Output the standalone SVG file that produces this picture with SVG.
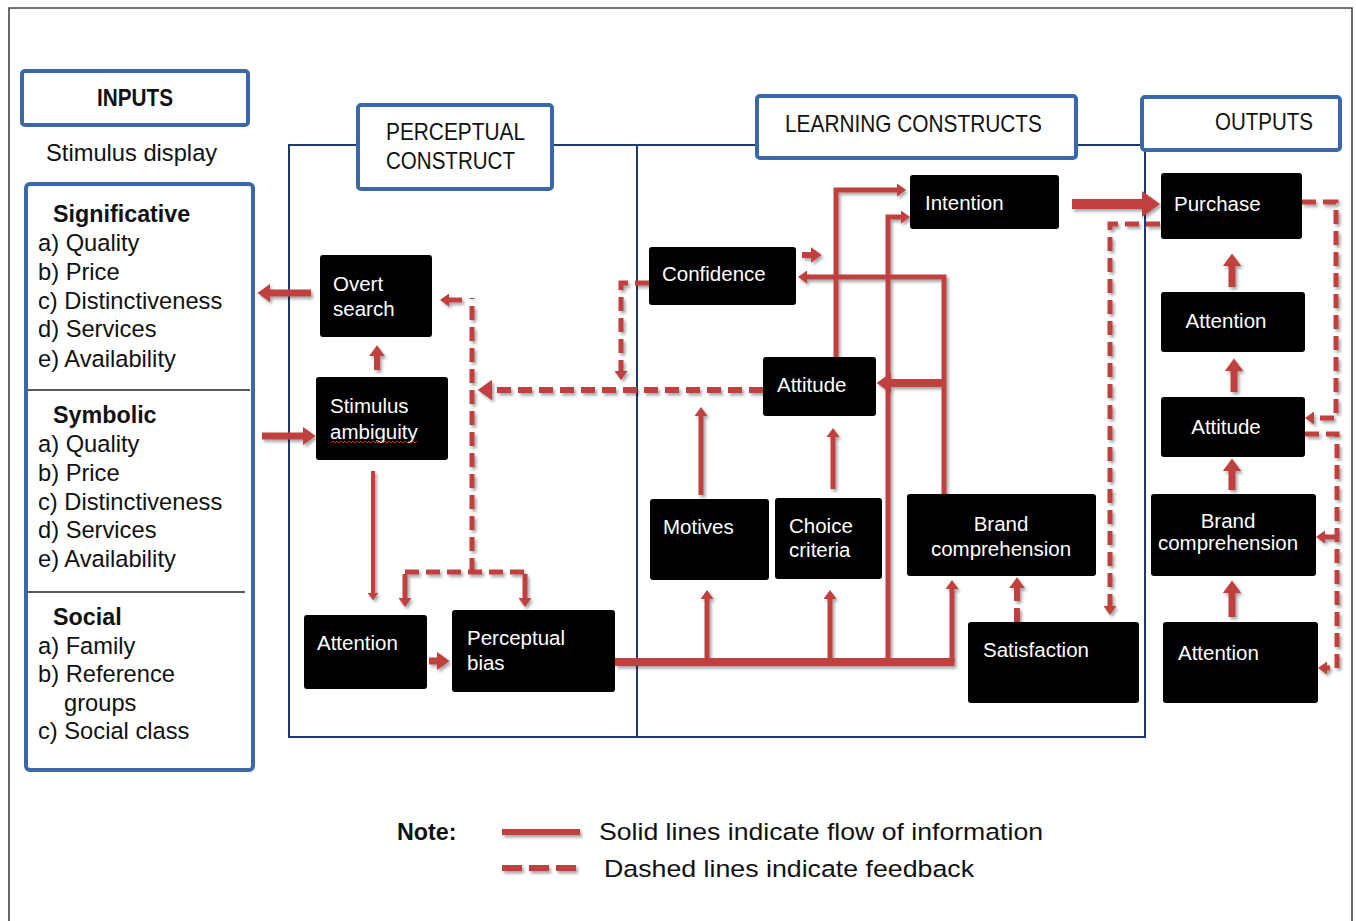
<svg xmlns="http://www.w3.org/2000/svg" width="1356" height="921" viewBox="0 0 1356 921">
  <defs>
    <style>
      .hdr { fill: #ffffff; stroke: #3a68ab; stroke-width: 4; }
      .region { fill: none; stroke: #1f3a6e; stroke-width: 2; }
      .node rect { fill: #000000; }
      .node text { fill: #ffffff; font-family: "Liberation Sans", Arial, sans-serif; font-size: 20.5px; }
      .htxt { fill: #111111; font-family: "Liberation Sans", Arial, sans-serif; font-size: 24px; }
      .itxt { fill: #111111; font-family: "Liberation Sans", Arial, sans-serif; font-size: 23.7px; }
      .itxt.b { font-weight: bold; font-size: 23.3px; }
      .fl, .fb { fill: none; stroke: #c0403f; stroke-linejoin: miter; }
      .fb { stroke-dasharray: 14 7; }
    </style>
    <marker id="ah" viewBox="0 0 18 26" refX="0" refY="13" markerWidth="1.8" markerHeight="2.6" orient="auto" markerUnits="strokeWidth">
      <path d="M0,0 L18,13 L0,26 z" fill="#c0403f"/>
    </marker>
    <marker id="ahL" viewBox="0 0 24 34" refX="0" refY="17" markerWidth="2.4" markerHeight="3.4" orient="auto" markerUnits="strokeWidth">
      <path d="M0,0 L24,17 L0,34 z" fill="#c0403f"/>
    </marker>
    <filter id="shade" filterUnits="userSpaceOnUse" x="0" y="0" width="1356" height="921">
      <feDropShadow dx="2" dy="2.5" stdDeviation="1.5" flood-color="#000000" flood-opacity="0.35"/>
    </filter>
  </defs>

  <rect x="0" y="0" width="1356" height="921" fill="#ffffff"/>
  <!-- page frame -->
  <path d="M9,921 V8 H1352 V921" fill="none" stroke="#444444" stroke-width="1.6"/>

  <!-- construct regions -->
  <g id="regions">
    <path class="region" d="M289,737 V145 H1145 V737 Z"/>
    <line class="region" x1="637" y1="145" x2="637" y2="737"/>
  </g>

  <!-- section headers -->
  <g id="hdr-inputs">
    <rect class="hdr" x="22" y="71" width="226" height="54" rx="3"/>
    <text class="htxt" x="97" y="106" font-weight="bold" font-size="21" textLength="76" lengthAdjust="spacingAndGlyphs">INPUTS</text>
  </g>
  <g id="hdr-perceptual">
    <rect class="hdr" x="358" y="105" width="194" height="84" rx="3"/>
    <text class="htxt" x="386" y="140" textLength="139" lengthAdjust="spacingAndGlyphs">PERCEPTUAL</text>
    <text class="htxt" x="386" y="169" textLength="129" lengthAdjust="spacingAndGlyphs">CONSTRUCT</text>
  </g>
  <g id="hdr-learning">
    <rect class="hdr" x="757" y="96" width="319" height="62" rx="3"/>
    <text class="htxt" x="785" y="132" textLength="257" lengthAdjust="spacingAndGlyphs">LEARNING CONSTRUCTS</text>
  </g>
  <g id="hdr-outputs">
    <rect class="hdr" x="1142" y="97" width="198" height="53" rx="3"/>
    <text class="htxt" x="1215" y="130" textLength="98" lengthAdjust="spacingAndGlyphs">OUTPUTS</text>
  </g>

  <!-- stimulus display inputs -->
  <g id="stimulus-display">
    <text class="itxt" x="46" y="161" font-size="21.5">Stimulus display</text>
    <rect class="hdr" x="26" y="184" width="227" height="586" rx="4"/>
    <line x1="28" y1="390" x2="250" y2="390" stroke="#222222" stroke-width="1.5"/>
    <line x1="28" y1="592" x2="245" y2="592" stroke="#222222" stroke-width="1.5"/>
    <text class="itxt b" x="53" y="222">Significative</text>
    <text class="itxt" x="38" y="251">a) Quality</text>
    <text class="itxt" x="38" y="280">b) Price</text>
    <text class="itxt" x="38" y="309">c) Distinctiveness</text>
    <text class="itxt" x="38" y="337">d) Services</text>
    <text class="itxt" x="38" y="367">e) Availability</text>
    <text class="itxt b" x="53" y="423">Symbolic</text>
    <text class="itxt" x="38" y="452">a) Quality</text>
    <text class="itxt" x="38" y="481">b) Price</text>
    <text class="itxt" x="38" y="510">c) Distinctiveness</text>
    <text class="itxt" x="38" y="538">d) Services</text>
    <text class="itxt" x="38" y="567">e) Availability</text>
    <text class="itxt b" x="53" y="625">Social</text>
    <text class="itxt" x="38" y="654">a) Family</text>
    <text class="itxt" x="38" y="682">b) Reference</text>
    <text class="itxt" x="64" y="711">groups</text>
    <text class="itxt" x="38" y="739">c) Social class</text>
  </g>

  <!-- perceptual construct nodes -->
  <g id="overt-search" class="node">
    <rect x="320" y="255" width="112" height="82" rx="3"/>
    <text x="333" y="291">Overt</text>
    <text x="333" y="316">search</text>
  </g>
  <g id="stimulus-ambiguity" class="node">
    <rect x="316" y="377" width="132" height="83" rx="3"/>
    <text x="330" y="413">Stimulus</text>
    <text x="330" y="439">ambiguity</text>
    <path d="M331,443 l2,-2 l2,2 l2,-2 l2,2 l2,-2 l2,2 l2,-2 l2,2 l2,-2 l2,2 l2,-2 l2,2 l2,-2 l2,2 l2,-2 l2,2 l2,-2 l2,2 l2,-2 l2,2 l2,-2 l2,2 l2,-2 l2,2 l2,-2 l2,2 l2,-2 l2,2 l2,-2 l2,2 l2,-2 l2,2 l2,-2 l2,2 l2,-2 l2,2 l2,-2 l2,2 l2,-2 l2,2 l2,-2 l2,2 l2,-2" fill="none" stroke="#e02020" stroke-width="1"/>
  </g>
  <g id="attention-perceptual" class="node">
    <rect x="304" y="615" width="123" height="74" rx="3"/>
    <text x="317" y="650">Attention</text>
  </g>
  <g id="perceptual-bias" class="node">
    <rect x="452" y="610" width="163" height="82" rx="3"/>
    <text x="467" y="645">Perceptual</text>
    <text x="467" y="670">bias</text>
  </g>

  <!-- learning construct nodes -->
  <g id="confidence" class="node">
    <rect x="649" y="247" width="147" height="58" rx="3"/>
    <text x="662" y="281">Confidence</text>
  </g>
  <g id="intention" class="node">
    <rect x="910" y="175" width="149" height="54" rx="3"/>
    <text x="925" y="210">Intention</text>
  </g>
  <g id="attitude-learning" class="node">
    <rect x="763" y="357" width="113" height="59" rx="3"/>
    <text x="777" y="392">Attitude</text>
  </g>
  <g id="motives" class="node">
    <rect x="650" y="499" width="119" height="81" rx="3"/>
    <text x="663" y="534">Motives</text>
  </g>
  <g id="choice-criteria" class="node">
    <rect x="775" y="498" width="107" height="81" rx="3"/>
    <text x="789" y="533">Choice</text>
    <text x="789" y="557">criteria</text>
  </g>
  <g id="brand-comprehension-learning" class="node">
    <rect x="907" y="494" width="189" height="82" rx="3"/>
    <text x="1001" y="531" text-anchor="middle">Brand</text>
    <text x="1001" y="556" text-anchor="middle">comprehension</text>
  </g>
  <g id="satisfaction" class="node">
    <rect x="968" y="622" width="171" height="81" rx="3"/>
    <text x="983" y="657">Satisfaction</text>
  </g>

  <!-- output nodes -->
  <g id="purchase" class="node">
    <rect x="1161" y="173" width="141" height="66" rx="3"/>
    <text x="1174" y="211">Purchase</text>
  </g>
  <g id="attention-output-top" class="node">
    <rect x="1161" y="292" width="144" height="60" rx="3"/>
    <text x="1226" y="328" text-anchor="middle">Attention</text>
  </g>
  <g id="attitude-output" class="node">
    <rect x="1161" y="397" width="144" height="60" rx="3"/>
    <text x="1226" y="434" text-anchor="middle">Attitude</text>
  </g>
  <g id="brand-comprehension-output" class="node">
    <rect x="1151" y="494" width="165" height="82" rx="3"/>
    <text x="1228" y="528" text-anchor="middle" font-size="17.5">Brand</text>
    <text x="1228" y="550" text-anchor="middle" font-size="17.5">comprehension</text>
  </g>
  <g id="attention-output-bottom" class="node">
    <rect x="1163" y="622" width="155" height="81" rx="3"/>
    <text x="1178" y="660">Attention</text>
  </g>

  <!-- connectors: solid = information flow, dashed = feedback -->
  <g id="connectors" filter="url(#shade)">
    <!-- information flow -->
    <path class="fl" stroke-width="7" marker-end="url(#ah)" d="M311,293 H270"/>
    <path class="fl" stroke-width="7" marker-end="url(#ah)" d="M262,436 H303"/>
    <path class="fl" stroke-width="6" marker-end="url(#ah)" d="M377,370 V356"/>
    <path class="fl" stroke-width="4" marker-end="url(#ah)" d="M373,471 V593"/>
    <path class="fl" stroke-width="7" marker-end="url(#ah)" d="M429,661 H437"/>
    <path class="fl" stroke-width="8" d="M615,662 H954.5"/>
    <path class="fl" stroke-width="5" marker-end="url(#ah)" d="M707,662 V599"/>
    <path class="fl" stroke-width="5" marker-end="url(#ah)" d="M830,662 V599"/>
    <path class="fl" stroke-width="5" marker-end="url(#ah)" d="M952,662 V589"/>
    <path class="fl" stroke-width="5" marker-end="url(#ah)" d="M888,664 V217 H901"/>
    <path class="fl" stroke-width="5" marker-end="url(#ah)" d="M836,357 V190 H897"/>
    <path class="fl" stroke-width="5" marker-end="url(#ah)" d="M944,494 V277 H807"/>
    <path class="fl" stroke-width="8" marker-end="url(#ah)" d="M944,383 H891"/>
    <path class="fl" stroke-width="6" marker-end="url(#ah)" d="M802,255 H811"/>
    <path class="fl" stroke-width="5" marker-end="url(#ah)" d="M701,495 V416"/>
    <path class="fl" stroke-width="5" marker-end="url(#ah)" d="M833,489 V437"/>
    <path class="fl" stroke-width="10" marker-end="url(#ah)" d="M1072,204 H1142"/>
    <path class="fl" stroke-width="7" marker-end="url(#ah)" d="M1232,287 V266"/>
    <path class="fl" stroke-width="7" marker-end="url(#ah)" d="M1234,392 V371"/>
    <path class="fl" stroke-width="7" marker-end="url(#ah)" d="M1232,490 V471"/>
    <path class="fl" stroke-width="7" marker-end="url(#ah)" d="M1232,617 V593"/>

    <!-- feedback -->
    <path class="fb" stroke-width="5" marker-end="url(#ah)" d="M649,283 H621 V371"/>
    <path class="fb" stroke-width="6" marker-end="url(#ahL)" d="M763,390 H492"/>
    <path class="fb" stroke-width="5" d="M472,572 V298"/>
    <path class="fl" stroke-width="5" marker-end="url(#ah)" d="M462,300 H449"/>
    <path class="fb" stroke-width="5" d="M405,572 H525"/>
    <path class="fl" stroke-width="5" marker-end="url(#ah)" d="M405,574 V598"/>
    <path class="fl" stroke-width="5" marker-end="url(#ah)" d="M525,574 V598"/>
    <path class="fb" stroke-width="5" marker-end="url(#ah)" d="M1302,202 H1336 V418 H1314"/>
    <path class="fb" stroke-width="5" marker-end="url(#ah)" d="M1305,434 H1337 V668 H1327"/>
    <path class="fl" stroke-width="5" marker-end="url(#ah)" d="M1337,537 H1325"/>
    <path class="fb" stroke-width="5" marker-end="url(#ah)" d="M1160,224 H1110 V606"/>
    <path class="fb" stroke-width="6" marker-end="url(#ah)" d="M1017,622 V588"/>
  </g>

  <!-- legend -->
  <g id="legend">
    <text class="itxt b" x="397" y="840" font-size="23.5">Note:</text>
    <g filter="url(#shade)">
      <path class="fl" stroke-width="6" d="M502,832 H580"/>
      <path class="fl" stroke-width="6" stroke-dasharray="20 7" d="M502,868 H581"/>
    </g>
    <text class="itxt" x="599" y="840" font-size="24" textLength="444" lengthAdjust="spacingAndGlyphs">Solid lines indicate flow of information</text>
    <text class="itxt" x="604" y="877" font-size="24" textLength="370" lengthAdjust="spacingAndGlyphs">Dashed lines indicate feedback</text>
  </g>
</svg>
